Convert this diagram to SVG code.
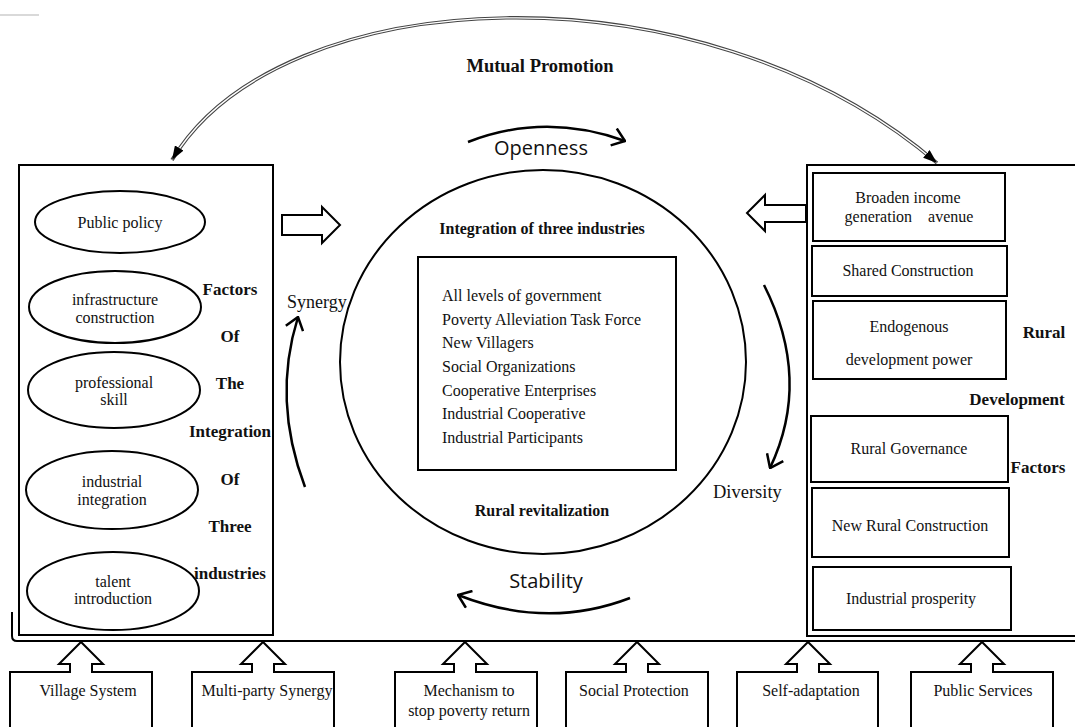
<svg xmlns="http://www.w3.org/2000/svg" width="1075" height="727" viewBox="0 0 1075 727">
<style>
.ln{fill:none;stroke:#000;stroke-width:2}
.bx{fill:#fff;stroke:#000;stroke-width:2}
.t{font-family:"Liberation Serif","Times New Roman",serif;font-size:16px;fill:#111;text-anchor:middle}
.tl{font-family:"Liberation Serif","Times New Roman",serif;font-size:16px;fill:#111}
.b{font-family:"Liberation Serif","Times New Roman",serif;font-size:17px;font-weight:bold;fill:#111;text-anchor:middle}
.b16{font-family:"Liberation Serif","Times New Roman",serif;font-size:16px;font-weight:bold;fill:#111;text-anchor:middle}
.s{font-family:"Open Sans","Noto Sans",sans-serif;font-size:20px;fill:#111;text-anchor:middle}
.arc{fill:none;stroke:#000;stroke-width:2.5}
</style>
<defs>
<marker id="tri" viewBox="0 0 14 10" refX="14" refY="5" markerWidth="14" markerHeight="10" markerUnits="userSpaceOnUse" orient="auto-start-reverse">
<path d="M0,0 L14,5 L0,10 Z" fill="#000"/>
</marker>
<marker id="chev" viewBox="0 0 14 20" refX="13" refY="10" markerWidth="14" markerHeight="20" markerUnits="userSpaceOnUse" orient="auto">
<path d="M1,1 L13,10 L1,19" fill="none" stroke="#000" stroke-width="2.5"/>
</marker>
</defs>
<rect width="1075" height="727" fill="#fff"/>
<line x1="0" y1="15" x2="39" y2="15" stroke="#ccc" stroke-width="1.5"/>

<g id="connectors">
<path d="M172 160 C280 -20 700 -40 937 163" fill="none" stroke="#444" stroke-width="3.5"/>
<path d="M172 160 C280 -20 700 -40 937 163" fill="none" stroke="#fff" stroke-width="1.3"/>
<path d="M172 160 C280 -20 700 -40 937 163" fill="none" stroke="none" marker-start="url(#tri)" marker-end="url(#tri)"/>
<text class="b" x="540" y="72" style="font-size:18.5px">Mutual Promotion</text>
<path class="arc" d="M468 142 Q545 112 625 141" marker-end="url(#chev)"/>
<text class="s" x="541" y="155">Openness</text>
<path class="arc" d="M630 598 Q547 630 458 595" marker-end="url(#chev)"/>
<text class="s" x="546" y="588">Stability</text>
<path class="arc" d="M305 487 Q272 400 298 317" marker-end="url(#chev)"/>
<text class="tl" x="287" y="308" style="font-size:18px">Synergy</text>
<path class="arc" d="M764 285 Q812 380 770 468" marker-end="url(#chev)"/>
<text class="tl" x="713" y="498" style="font-size:18.5px">Diversity</text>
<polygon class="bx" points="282,215 322,215 322,207 340,225 322,243 322,235 282,235"/>
<polygon class="bx" points="806,205 765,205 765,195 747,213 765,231 765,222 806,222"/>
<path class="ln" d="M12 612 L12 636 Q12 641 17 641 L1075 641"/>
</g>

<g id="factors-integration">
<rect class="bx" x="19" y="165" width="254" height="470"/>
<g id="public-policy"><ellipse class="bx" cx="120" cy="222" rx="85" ry="31"/><text class="t" x="120" y="228">Public policy</text></g>
<g id="infrastructure"><ellipse class="bx" cx="115" cy="307" rx="86" ry="36"/><text class="t" x="115" y="305">infrastructure</text><text class="t" x="115" y="323">construction</text></g>
<g id="professional-skill"><ellipse class="bx" cx="114" cy="390" rx="86" ry="38"/><text class="t" x="114" y="388">professional</text><text class="t" x="114" y="405">skill</text></g>
<g id="industrial-integration"><ellipse class="bx" cx="112" cy="490" rx="86" ry="39"/><text class="t" x="112" y="487">industrial</text><text class="t" x="112" y="505">integration</text></g>
<g id="talent-introduction"><ellipse class="bx" cx="113" cy="591" rx="86" ry="39"/><text class="t" x="113" y="587">talent</text><text class="t" x="113" y="604">introduction</text></g>
<text class="b" x="230" y="295">Factors</text>
<text class="b" x="230" y="342">Of</text>
<text class="b" x="230" y="389">The</text>
<text class="b" x="230" y="437">Integration</text>
<text class="b" x="230" y="485">Of</text>
<text class="b" x="230" y="532">Three</text>
<text class="b" x="230" y="579">industries</text>
</g>

<g id="core">
<ellipse class="ln" cx="543" cy="362" rx="203" ry="192"/>
<text class="b16" x="542" y="234">Integration of three industries</text>
<rect class="bx" x="418" y="257" width="258" height="213"/>
<text class="tl" x="442" y="301">All levels of government</text>
<text class="tl" x="442" y="325">Poverty Alleviation Task Force</text>
<text class="tl" x="442" y="348">New Villagers</text>
<text class="tl" x="442" y="372">Social Organizations</text>
<text class="tl" x="442" y="396">Cooperative Enterprises</text>
<text class="tl" x="442" y="419">Industrial Cooperative</text>
<text class="tl" x="442" y="443">Industrial Participants</text>
<text class="b16" x="542" y="516">Rural revitalization</text>
</g>

<g id="rural-development">
<rect class="bx" x="807" y="165" width="280" height="471"/>
<g id="broaden"><rect class="bx" x="813" y="173" width="192" height="68"/><text class="t" x="908" y="203">Broaden income</text><text class="t" x="909" y="222" xml:space="preserve">generation    avenue</text></g>
<g id="shared"><rect class="bx" x="812" y="246" width="195" height="50"/><text class="t" x="908" y="276">Shared Construction</text></g>
<g id="endogenous"><rect class="bx" x="813" y="301" width="193" height="78"/><text class="t" x="909" y="332">Endogenous</text><text class="t" x="909" y="365">development power</text></g>
<g id="governance"><rect class="bx" x="811" y="416" width="197" height="66"/><text class="t" x="909" y="454">Rural Governance</text></g>
<g id="new-rural"><rect class="bx" x="812" y="488" width="197" height="69"/><text class="t" x="910" y="531">New Rural Construction</text></g>
<g id="prosperity"><rect class="bx" x="813" y="567" width="198" height="63"/><text class="t" x="911" y="604">Industrial prosperity</text></g>
<text class="b" x="1044" y="338">Rural</text>
<text class="b" x="1017" y="405">Development</text>
<text class="b" x="1038" y="473">Factors</text>
</g>

<g id="village-system"><path class="bx" d="M10 730 L10 672 L70 672 L70 664 L59 664 L81 642 L103 664 L92 664 L92 672 L152 672 L152 730"/><text class="t" x="88" y="696">Village System</text></g>
<g id="multi-party"><path class="bx" d="M192 730 L192 672 L252 672 L252 664 L241 664 L263 642 L285 664 L274 664 L274 672 L334 672 L334 730"/><text class="t" x="267" y="696">Multi-party Synergy</text></g>
<g id="mechanism"><path class="bx" d="M395 730 L395 672 L454 672 L454 664 L443 664 L465 642 L487 664 L476 664 L476 672 L537 672 L537 730"/><text class="t" x="469" y="696">Mechanism to</text><text class="t" x="469" y="716">stop poverty return</text></g>
<g id="social-protection"><path class="bx" d="M566 730 L566 672 L626 672 L626 664 L615 664 L637 642 L659 664 L648 664 L648 672 L708 672 L708 730"/><text class="t" x="634" y="696">Social Protection</text></g>
<g id="self-adaptation"><path class="bx" d="M737 730 L737 672 L797 672 L797 664 L786 664 L808 642 L830 664 L819 664 L819 672 L878 672 L878 730"/><text class="t" x="811" y="696">Self-adaptation</text></g>
<g id="public-services"><path class="bx" d="M911 730 L911 672 L971 672 L971 664 L960 664 L982 642 L1004 664 L993 664 L993 672 L1053 672 L1053 730"/><text class="t" x="983" y="696">Public Services</text></g>
</svg>
